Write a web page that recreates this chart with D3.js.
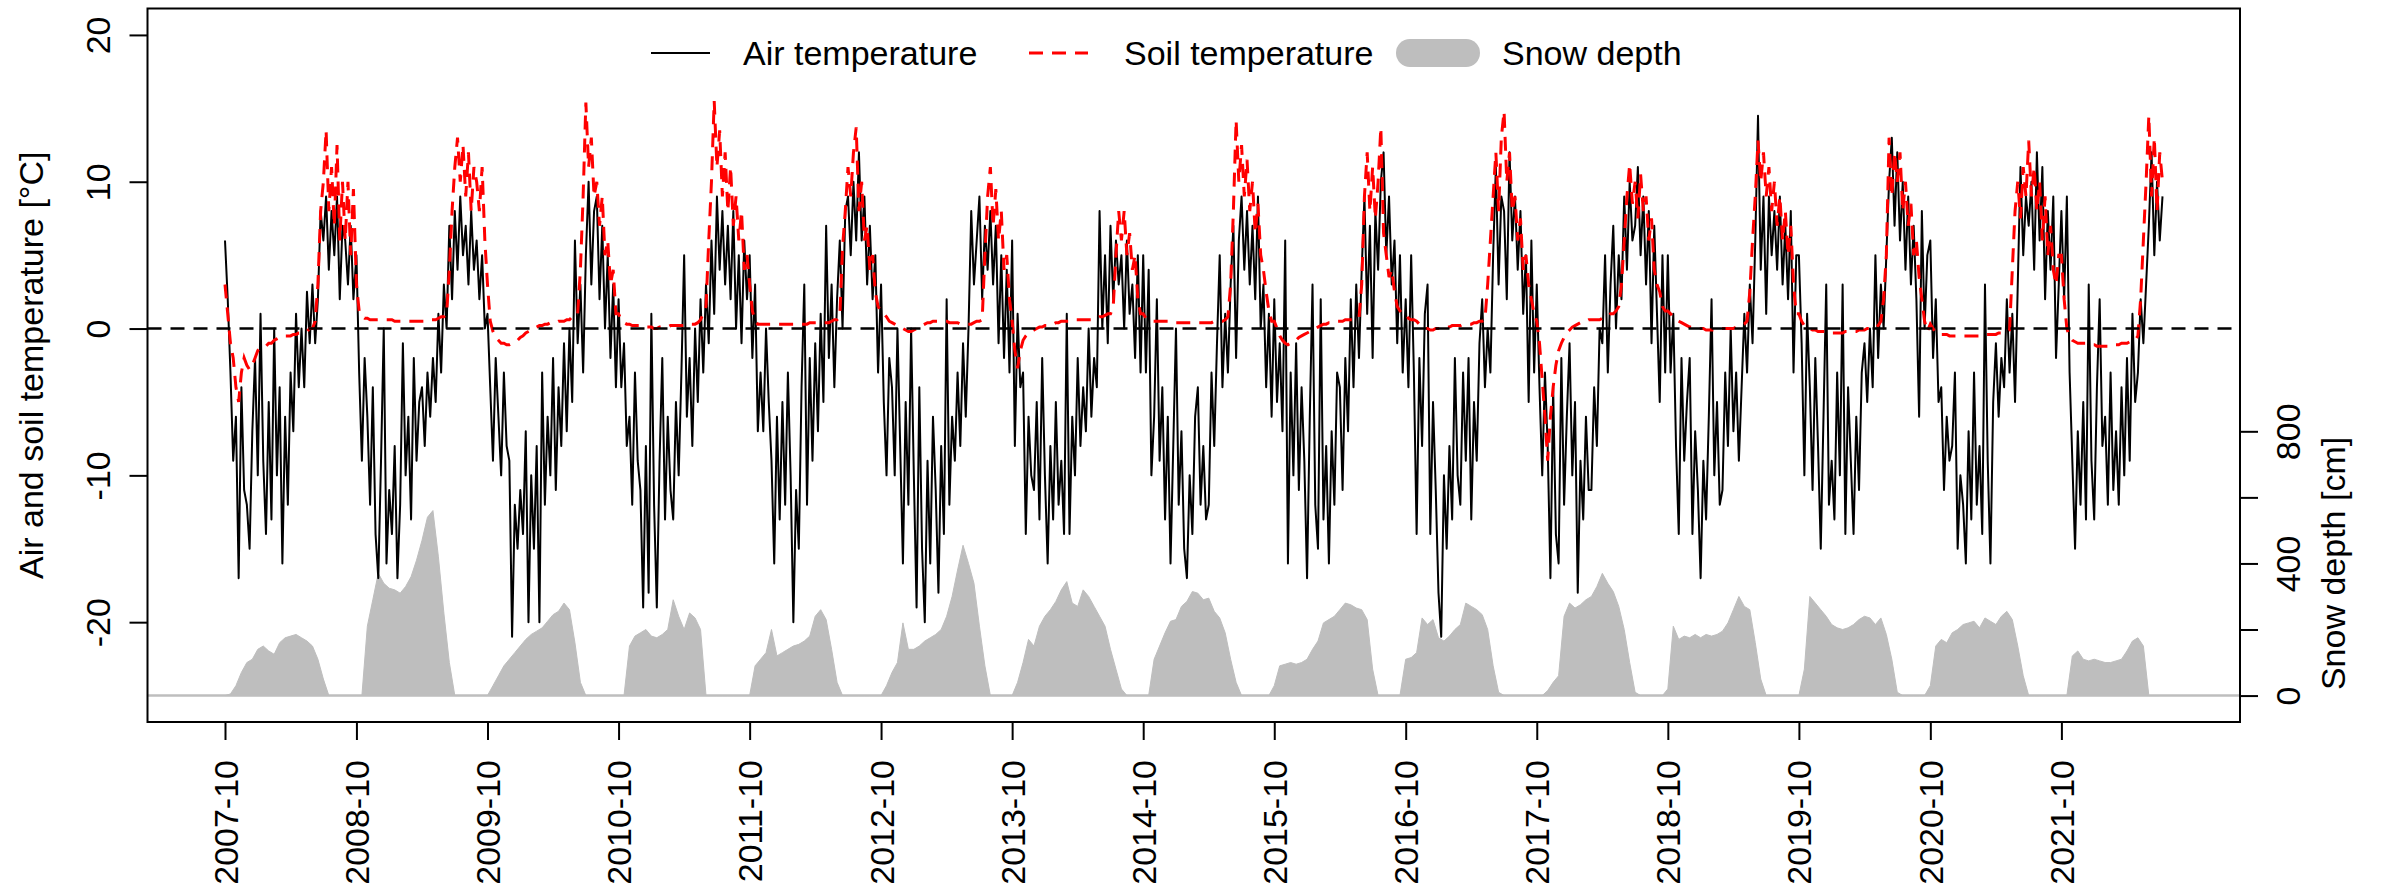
<!DOCTYPE html>
<html lang="en">
<head>
<meta charset="UTF-8">
<title>Air and soil temperature, snow depth</title>
<script src="https://d3js.org/d3.v7.min.js"></script>
<style>
    body { margin: 0; background: #fff; }
    svg text { font-family: "Liberation Sans", Arial, Helvetica, sans-serif; font-size: 34px; fill: #000; }
</style>
</head>
<body>
<script>

    // each season runs 1 Oct -> 30 Sep
    // temperatures: 48 readings per season (about weekly), snow: 24 per season
    var seasons = [2007, 2008, 2009, 2010, 2011, 2012, 2013, 2014, 2015, 2016, 2017, 2018, 2019, 2020, 2021];

    // air temperature [°C]
    var air2007 = [6, 2, -3, -9, -6, -17, -4, -11, -12, -15, -7, -2, -10, 1, -9, -14, -5, -13, 0, -10, -4, -16, -6, -12, -3, -7, 1, -4, 0, -4, 2.5, -1, 3, -1, 2, 8, 6, 9, 4, 8, 5, 9, 2, 7, 6, 3, 7, 2];
    var air2008 = [5, -3, -9, -2, -6, -12, -4, -14, -17, -9, 0, -16, -11, -14, -8, -17, -12, -1, -10, -6, -13, -2, -9, -5, -4, -8, -3, -6, -2, -5, 1, -3, 3, 0, 7, 2, 8, 4, 9, 5, 7, 3, 8, 4, 6, 2, 5, 0];
    var air2009 = [1, -4, -9, -2, -6, -10, -3, -8, -9, -21, -12, -15, -11, -14, -7, -20, -10, -15, -8, -20, -3, -12, -6, -10, -2, -11, -4, -8, -1, -7, 0, -5, 6, -1, 3, -3, 5, 10, 3, 8, 9, 2, 7, 0, 5, -2, 3, -4];
    var air2010 = [2, -4, -1, -8, -6, -12, -3, -9, -11, -19, -8, -18, 1, -12, -19, -9, -2, -13, -6, -11, -13, -5, -10, -3, 5, -6, -2, -8, 0, -5, 2, -3, 3, -1, 6, 1, 9, 4, 8, 3, 7, 2, 8, 0, 5, -1, 6, 2];
    var air2011 = [5, -2, 3, -7, -3, -7, 0, -5, -9, -16, -6, -13, -5, -12, -3, -10, -20, -11, -15, -4, 3, -12, -2, -9, -1, -7, 1, -5, 7, -2, 3, -4, 2, 6, 0, 8, 9, 5, 10, 6, 12, 6, 9, 3, 7, 2, 5, -3];
    var air2012 = [3, -5, -10, -2, -4, -10, 0, -8, -16, -5, -12, 0, -10, -19, -4, -15, -20, -9, -16, -6, -11, -18, -8, -14, 2, -12, -6, -9, -3, -8, -1, -6, 0, 8, 3, 6, 9, 2, 7, 4, 8, 3, 7, -1, 5, -2, 4, -3];
    var air2013 = [6, -8, 1, -4, -3, -14, -6, -10, -11, -5, -13, -2, -10, -16, -8, -13, -5, -12, -9, -14, 1, -14, -6, -10, -2, -8, -4, -7, 0, -6, -2, -4, 8, 0, 5, -1, 7, 2, 6, 3, 5, 0, 6, 1, 3, -2, 5, -3];
    var air2014 = [5, -3, 4, -10, -6, 2, -9, -4, -13, -6, -16, -8, 0, -12, -7, -15, -17, -10, -14, -6, -4, -12, -8, -13, -12, -3, -8, -1, 5, -4, 1, -3, 3, 7, -2, 6, 9, 4, 8, 3, 7, 2, 9, 0, 3, -4, 1, -6];
    var air2015 = [2, -5, -1, -7, 6, -16, -3, -10, -1, -11, -4, -9, -17, -6, 3, -12, -15, 2, -13, -8, -16, -7, -12, -3, -4, -11, -2, -7, 2, -4, 3, -2, 4, 9, 1, 7, -2, 8, 4, 10, 12, 5, 9, 3, 6, -1, 5, -3];
    var air2016 = [2, -4, 5, -3, -14, -2, -8, 1, 3, -14, -5, -11, -18, -21, -10, -15, -8, -13, -2, -10, -12, -3, -9, -2, -13, -5, -9, -1, 2, -4, 0, -3, 5, 11, 3, 9, 8, 2, 12, 6, 9, 4, 8, 1, 5, -5, 6, -3];
    var air2017 = [3, -4, -10, -3, -8, -17, -4, -14, -16, -2, -12, -6, -1, -10, -5, -18, -9, -13, -6, -11, -11, -4, -8, 0, -1, 5, -3, 3, 7, 0, 5, 2, 9, 4, 10, 6, 7, 11, 5, 9, 3, 8, -1, 7, 1, -5, 5, -3];
    var air2018 = [5, -3, 1, -8, -14, -2, -9, -5, -2, -14, -7, -11, -17, -9, -13, -6, 2, -10, -5, -12, -11, -3, -8, 0, -7, -3, -9, -4, 1, -3, 3, -1, 6, 14.5, 4, 9, 1, 9, 5, 8, 4, 9, 3, 7, 2, 8, -3, 5];
    var air2019 = [5, -1, -10, 1, -4, -11, -2, -8, -15, -6, 3, -12, -9, -13, -3, -10, 3, -14, -4, -9, -14, -6, -11, -3, -1, -5, 0, -4, 5, -2, 3, 0, 5, 10, 13, 7, 12, 6, 10, 4, 9, 3, 7, 2, -6, 8, 0, 5];
    var air2020 = [6, -2, 2, -5, -4, -11, -6, -9, -8, -3, -15, -10, -12, -16, -7, -13, -3, -12, -8, -14, 3, -9, -16, -5, -1, -6, -2, -4, 2, -3, 1, -5, 3, 11, 5, 9, 7, 10, 4, 12, 6, 11, 2, 8, 4, 9, -2, 3];
    var air2021 = [8, 2, 9, -3, -9, -15, -7, -12, -5, -13, 3, -9, -13, -4, 2, -8, -6, -12, -3, -11, -7, -12, -4, -10, -2, -9, 1, -5, -3, 2, -1, 3, 7, 12, 5, 10, 6, 9];

    // soil temperature [°C]
    var soil2007 = [3, 1, -1, -2, -4, -5, -3, -2, -2.5, -2.8, -2.5, -2, -1.5, -1.3, -1.3, -1.2, -1, -1, -0.8, -0.7, -0.6, -0.6, -0.5, -0.5, -0.5, -0.4, -0.4, -0.3, -0.3, -0.2, -0.2, 0, 0, 0.5, 3, 8, 10, 13.5, 8, 11, 7, 12.5, 6, 10, 6, 10, 5, 9.5];
    var soil2008 = [3, 1.2, 0.8, 0.7, 0.7, 0.6, 0.6, 0.6, 0.6, 0.6, 0.6, 0.6, 0.6, 0.6, 0.5, 0.5, 0.5, 0.5, 0.5, 0.5, 0.5, 0.5, 0.5, 0.5, 0.5, 0.5, 0.5, 0.6, 0.6, 0.6, 0.7, 0.8, 0.8, 1, 4, 8, 11, 13, 10, 12.5, 9, 12, 8, 11, 10, 8, 11, 6];
    var soil2009 = [3, 0.5, -0.2, -0.6, -0.8, -1, -1, -1.1, -1.1, -1, -0.9, -0.8, -0.6, -0.5, -0.3, -0.2, -0.1, 0, 0.1, 0.2, 0.2, 0.3, 0.3, 0.4, 0.4, 0.4, 0.5, 0.5, 0.5, 0.6, 0.6, 0.8, 0.8, 1, 4, 9, 15.4, 11, 13, 9, 10, 7, 9, 5, 6, 3, 4, 1];
    var soil2010 = [1, 0.6, 0.4, 0.3, 0.3, 0.2, 0.2, 0.2, 0.2, 0.1, 0.1, 0.1, 0.1, 0, 0, 0.1, 0.1, 0.1, 0.1, 0.2, 0.2, 0.2, 0.2, 0.2, 0.2, 0.3, 0.3, 0.3, 0.3, 0.4, 0.6, 1, 1.5, 6, 10, 15.5, 11, 13.5, 9, 12, 8, 11, 7, 9, 6, 8, 4, 5];
    var soil2011 = [3, 1.2, 0.5, 0.3, 0.3, 0.3, 0.3, 0.3, 0.3, 0.3, 0.3, 0.3, 0.3, 0.3, 0.3, 0.3, 0.3, 0.3, 0.3, 0.3, 0.3, 0.3, 0.4, 0.4, 0.4, 0.4, 0.4, 0.4, 0.4, 0.4, 0.5, 0.6, 0.6, 0.8, 5.5, 8, 11, 9, 12, 13.7, 8, 10, 6, 7, 4, 5, 2.5, 1.5];
    var soil2012 = [1.2, 1, 0.8, 0.5, 0.4, 0.3, 0.2, 0.1, 0, -0.1, -0.2, -0.2, -0.1, 0, 0.1, 0.2, 0.3, 0.4, 0.4, 0.5, 0.5, 0.5, 0.5, 0.5, 0.5, 0.4, 0.4, 0.4, 0.4, 0.3, 0.3, 0.3, 0.3, 0.3, 0.4, 0.5, 0.5, 0.6, 5, 9, 11, 7, 9.5, 6, 8, 4, 5, 2];
    var soil2013 = [0.5, -1.5, -2.7, -1.5, -0.8, -0.5, -0.3, -0.2, -0.1, 0, 0.1, 0.1, 0.2, 0.2, 0.3, 0.3, 0.4, 0.4, 0.5, 0.5, 0.5, 0.5, 0.6, 0.6, 0.6, 0.6, 0.6, 0.6, 0.6, 0.6, 0.7, 0.7, 0.8, 0.8, 0.9, 1, 1, 1.5, 5, 8, 6, 8, 5, 6.5, 4, 5, 2, 1];
    var soil2014 = [1, 0.7, 0.6, 0.5, 0.5, 0.5, 0.5, 0.5, 0.5, 0.5, 0.4, 0.4, 0.4, 0.4, 0.4, 0.4, 0.4, 0.4, 0.4, 0.4, 0.4, 0.4, 0.4, 0.4, 0.4, 0.4, 0.5, 0.5, 0.5, 0.5, 0.6, 0.8, 3, 8, 14.2, 10, 12.5, 9, 11.5, 8, 10, 6.5, 8.5, 5, 4, 2.5, 1.2, 0.5];
    var soil2015 = [0.5, 0, -0.5, -0.8, -1, -1.1, -1, -0.9, -0.8, -0.6, -0.5, -0.4, -0.3, -0.2, -0.1, 0, 0.1, 0.2, 0.3, 0.3, 0.4, 0.4, 0.5, 0.5, 0.5, 0.5, 0.6, 0.6, 0.6, 0.6, 0.7, 0.7, 3, 9, 12, 8, 11, 7.5, 10, 13.7, 6.5, 5, 3.5, 4, 2.5, 1.5, 1.2, 1];
    var soil2016 = [1, 0.7, 0.6, 0.6, 0.5, 0.3, 0.1, 0, 0, -0.1, -0.1, 0, 0, 0, 0.1, 0.1, 0.1, 0.2, 0.2, 0.2, 0.2, 0.3, 0.3, 0.3, 0.3, 0.4, 0.4, 0.5, 0.5, 0.6, 3, 6, 9, 12, 8, 13, 14.8, 10, 12, 8, 9, 6, 7.5, 4, 5, 3, 2, 1];
    var soil2017 = [0.5, -1, -3.5, -6, -9, -6, -4, -2.5, -1.5, -1, -0.6, -0.3, -0.1, 0.1, 0.2, 0.3, 0.4, 0.5, 0.5, 0.6, 0.6, 0.6, 0.6, 0.6, 0.7, 0.7, 0.8, 1, 1, 1.2, 1.5, 3, 6, 9, 11.2, 8.5, 10, 7.5, 10.5, 8, 9, 6, 7.5, 4, 3, 2.5, 1.5, 1.2];
    var soil2018 = [1.2, 1, 0.8, 0.6, 0.5, 0.4, 0.3, 0.2, 0.1, 0.1, 0, 0, 0, 0, -0.1, -0.1, -0.1, -0.1, 0, 0, 0, 0, 0, 0, 0, 0.1, 0.1, 0.2, 0.3, 0.5, 2.5, 6, 9, 12.8, 10, 12, 9, 11, 8, 10, 7, 9, 6, 8, 5, 7, 3, 1];
    var soil2019 = [1, 0.5, 0.2, 0, 0, -0.1, -0.1, -0.2, -0.2, -0.2, -0.2, -0.3, -0.3, -0.3, -0.3, -0.3, -0.3, -0.2, -0.2, -0.2, -0.2, -0.2, -0.1, -0.1, -0.1, 0, 0, 0, 0, 0.2, 0.5, 2, 5, 13, 9, 12, 10, 12, 8, 10, 7, 8.5, 5, 6, 3.5, 2, 0.5, -0.2];
    var soil2020 = [0.3, 0, -0.3, -0.4, -0.4, -0.4, -0.4, -0.5, -0.5, -0.5, -0.5, -0.5, -0.5, -0.5, -0.5, -0.5, -0.5, -0.5, -0.5, -0.4, -0.4, -0.4, -0.4, -0.4, -0.4, -0.3, -0.3, -0.3, -0.3, -0.1, 4, 8, 10, 7.5, 11, 9, 12.8, 9, 11, 8, 10, 6, 9, 5, 7, 4, 3, 5];
    var soil2021 = [5, 2, 0, -0.6, -0.8, -0.9, -1, -1, -1, -1, -1.1, -1.1, -1.1, -1.2, -1.2, -1.2, -1.2, -1.2, -1.1, -1.1, -1.1, -1.1, -1, -1, -1, -0.9, -0.9, -0.8, -0.5, 2, 6, 10, 14.5, 9, 13, 8, 12, 10];

    // snow depth [cm]
    var snow2007 = [0, 5, 30, 70, 100, 110, 140, 150, 135, 125, 160, 175, 180, 185, 175, 165, 150, 110, 50, 0, 0, 0, 0, 0];
    var snow2008 = [0, 0, 210, 290, 370, 340, 325, 320, 310, 330, 360, 410, 470, 540, 560, 420, 250, 100, 0, 0, 0, 0, 0, 0];
    var snow2009 = [0, 30, 60, 90, 110, 130, 150, 170, 185, 195, 205, 225, 245, 255, 280, 260, 160, 40, 0, 0, 0, 0, 0, 0];
    var snow2010 = [0, 0, 150, 180, 190, 200, 180, 175, 185, 200, 290, 240, 200, 250, 235, 200, 0, 0, 0, 0, 0, 0, 0, 0];
    var snow2011 = [0, 90, 110, 130, 200, 120, 130, 140, 150, 155, 165, 180, 240, 260, 230, 140, 40, 0, 0, 0, 0, 0, 0, 0];
    var snow2012 = [0, 30, 70, 100, 220, 140, 140, 150, 165, 175, 185, 200, 240, 300, 380, 455, 400, 340, 210, 90, 0, 0, 0, 0];
    var snow2013 = [0, 40, 100, 170, 150, 210, 240, 260, 285, 320, 345, 280, 270, 320, 300, 270, 240, 210, 140, 80, 20, 0, 0, 0];
    var snow2014 = [0, 0, 110, 150, 190, 225, 230, 270, 285, 315, 310, 290, 295, 255, 235, 190, 110, 40, 0, 0, 0, 0, 0, 0];
    var snow2015 = [30, 90, 95, 100, 95, 100, 110, 140, 165, 220, 230, 240, 260, 280, 275, 265, 260, 230, 80, 0, 0, 0, 0, 0];
    var snow2016 = [110, 115, 130, 235, 215, 230, 175, 165, 180, 200, 215, 280, 270, 260, 245, 200, 90, 10, 0, 0, 0, 0, 0, 0];
    var snow2017 = [0, 0, 15, 40, 60, 240, 280, 265, 275, 290, 300, 330, 370, 340, 315, 270, 200, 100, 10, 0, 0, 0, 0, 0];
    var snow2018 = [20, 210, 170, 180, 175, 185, 175, 185, 180, 185, 195, 220, 260, 300, 270, 260, 160, 50, 0, 0, 0, 0, 0, 0];
    var snow2019 = [0, 80, 300, 280, 260, 240, 215, 205, 200, 205, 215, 230, 240, 235, 215, 235, 185, 110, 10, 0, 0, 0, 0, 0];
    var snow2020 = [30, 150, 170, 160, 190, 200, 215, 220, 225, 205, 235, 225, 215, 240, 255, 230, 150, 60, 0, 0, 0, 0, 0, 0];
    var snow2021 = [0, 0, 120, 135, 110, 105, 110, 105, 100, 100, 105, 110, 135, 165, 175, 150, 0, 0, 0];

    var airBySeason = [air2007, air2008, air2009, air2010, air2011, air2012, air2013, air2014, air2015, air2016, air2017, air2018, air2019, air2020, air2021];
    var soilBySeason = [soil2007, soil2008, soil2009, soil2010, soil2011, soil2012, soil2013, soil2014, soil2015, soil2016, soil2017, soil2018, soil2019, soil2020, soil2021];
    var snowBySeason = [snow2007, snow2008, snow2009, snow2010, snow2011, snow2012, snow2013, snow2014, snow2015, snow2016, snow2017, snow2018, snow2019, snow2020, snow2021];

    var tempLimits = [-25, 20];   // ylim of the temperature plot
    var tempTicks = [-20, -10, 0, 10, 20];
    var snowLimits = [0, 2000];   // ylim of the overlaid snow plot
    var snowTicks = [0, 200, 400, 600, 800];

    var width = 2384;
    var height = 888;
    var margin = {top: 8.5, right: 144, bottom: 166, left: 147.5};

    function toSeries(lists, perSeason) {
        var out = [];
        lists.forEach(function (vals, k) {
            var start = new Date(seasons[k], 9, 1).getTime();
            vals.forEach(function (v, i) {
                out.push({date: new Date(start + i * 365.25 / perSeason * 864e5), value: v});
            });
        });
        return out;
    }

    var air = toSeries(airBySeason, 48);
    var soil = toSeries(soilBySeason, 48);
    var snow = toSeries(snowBySeason, 24);

    // R style 4% padding around the data range
    function pad(lim) {
        var d = (lim[1] - lim[0]) * 0.04;
        return [lim[0] - d, lim[1] + d];
    }

    var dateExtent = d3.extent(air, function (d) { return d.date; });
    var datePad = (dateExtent[1] - dateExtent[0]) * 0.04;

    var x = d3.scaleTime()
        .domain([new Date(+dateExtent[0] - datePad), new Date(+dateExtent[1] + datePad)])
        .range([margin.left, width - margin.right]);

    var y = d3.scaleLinear()
        .domain(pad(tempLimits))
        .range([height - margin.bottom, margin.top]);

    var snowY = d3.scaleLinear()
        .domain(pad(snowLimits))
        .range([height - margin.bottom, margin.top]);

    var svg = d3.select("body").append("svg")
        .attr("width", width)
        .attr("height", height);

    svg.append("defs").append("clipPath").attr("id", "plotClip")
        .append("rect")
        .attr("x", margin.left)
        .attr("y", margin.top)
        .attr("width", width - margin.left - margin.right)
        .attr("height", height - margin.top - margin.bottom);

    var plot = svg.append("g").attr("clip-path", "url(#plotClip)");

    // snow depth
    plot.append("path")
        .datum(snow)
        .attr("fill", "#bebebe")
        .attr("stroke", "#bebebe")
        .attr("stroke-width", 1)
        .attr("d", d3.area()
            .x(function (d) { return x(d.date); })
            .y0(snowY(0))
            .y1(function (d) { return snowY(d.value); }));

    plot.append("line")
        .attr("x1", margin.left)
        .attr("x2", width - margin.right)
        .attr("y1", snowY(0))
        .attr("y2", snowY(0))
        .attr("stroke", "#bebebe")
        .attr("stroke-width", 2.5);

    var line = d3.line()
        .x(function (d) { return x(d.date); })
        .y(function (d) { return y(d.value); });

    // air temperature
    plot.append("path")
        .datum(air)
        .attr("fill", "none")
        .attr("stroke", "#000")
        .attr("stroke-width", 2)
        .attr("stroke-linejoin", "round")
        .attr("d", line);

    // soil temperature
    plot.append("path")
        .datum(soil)
        .attr("fill", "none")
        .attr("stroke", "#ff0000")
        .attr("stroke-width", 3)
        .attr("stroke-dasharray", "14,9")
        .attr("d", line);

    // zero line
    plot.append("line")
        .attr("x1", margin.left)
        .attr("x2", width - margin.right)
        .attr("y1", y(0))
        .attr("y2", y(0))
        .attr("stroke", "#000")
        .attr("stroke-width", 2.5)
        .attr("stroke-dasharray", "14,9");

    // box
    svg.append("rect")
        .attr("x", margin.left)
        .attr("y", margin.top)
        .attr("width", width - margin.left - margin.right)
        .attr("height", height - margin.top - margin.bottom)
        .attr("fill", "none")
        .attr("stroke", "#000")
        .attr("stroke-width", 2);

    // bottom axis
    var xAxis = svg.append("g")
        .attr("transform", "translate(0," + (height - margin.bottom) + ")")
        .call(d3.axisBottom(x)
            .tickValues(seasons.map(function (s) { return new Date(s, 9, 1); }))
            .tickFormat(d3.timeFormat("%Y-%m"))
            .tickSize(18));
    xAxis.select(".domain").remove();
    xAxis.selectAll(".tick line").attr("stroke-width", 2);
    xAxis.selectAll(".tick text")
        .attr("y", null)
        .attr("dy", null)
        .attr("text-anchor", "end")
        .attr("transform", "translate(12,38) rotate(-90)");

    // left axis (plain hyphen for negatives, like R)
    var yAxis = svg.append("g")
        .attr("transform", "translate(" + margin.left + ",0)")
        .call(d3.axisLeft(y)
            .tickValues(tempTicks)
            .tickFormat(function (d) { return String(d); })
            .tickSize(18));
    yAxis.select(".domain").remove();
    yAxis.selectAll(".tick line").attr("stroke-width", 2);
    yAxis.selectAll(".tick text")
        .attr("x", null)
        .attr("dy", null)
        .attr("text-anchor", "middle")
        .attr("transform", "translate(-38,0) rotate(-90)");

    // right axis (snow)
    var sAxis = svg.append("g")
        .attr("transform", "translate(" + (width - margin.right) + ",0)")
        .call(d3.axisRight(snowY)
            .tickValues(snowTicks)
            .tickFormat(function (d) { return d % 400 === 0 ? String(d) : ""; })
            .tickSize(18));
    sAxis.select(".domain").remove();
    sAxis.selectAll(".tick line").attr("stroke-width", 2);
    sAxis.selectAll(".tick text")
        .attr("x", null)
        .attr("dy", null)
        .attr("text-anchor", "middle")
        .attr("transform", "translate(60,0) rotate(-90)");

    svg.selectAll(".tick text").style("font-size", "34px").style("font-family", "'Liberation Sans', Arial, sans-serif");

    // axis titles
    svg.append("text")
        .attr("text-anchor", "middle")
        .attr("transform", "translate(43," + ((margin.top + height - margin.bottom) / 2) + ") rotate(-90)")
        .text("Air and soil temperature [°C]");

    svg.append("text")
        .attr("text-anchor", "middle")
        .attr("transform", "translate(" + (width - margin.right + 105) + "," + snowY(400) + ") rotate(-90)")
        .text("Snow depth [cm]");

    // legend
    var legend = svg.append("g").attr("transform", "translate(0,53)");

    legend.append("line")
        .attr("x1", 651).attr("x2", 710)
        .attr("stroke", "#000").attr("stroke-width", 2);
    legend.append("text").attr("x", 743).attr("dominant-baseline", "central").text("Air temperature");

    legend.append("line")
        .attr("x1", 1029).attr("x2", 1088)
        .attr("stroke", "#ff0000").attr("stroke-width", 3).attr("stroke-dasharray", "14,9");
    legend.append("text").attr("x", 1124).attr("dominant-baseline", "central").text("Soil temperature");

    legend.append("line")
        .attr("x1", 1410).attr("x2", 1466)
        .attr("stroke", "#bebebe").attr("stroke-width", 28).attr("stroke-linecap", "round");
    legend.append("text").attr("x", 1502).attr("dominant-baseline", "central").text("Snow depth");

</script>
</body>
</html>
